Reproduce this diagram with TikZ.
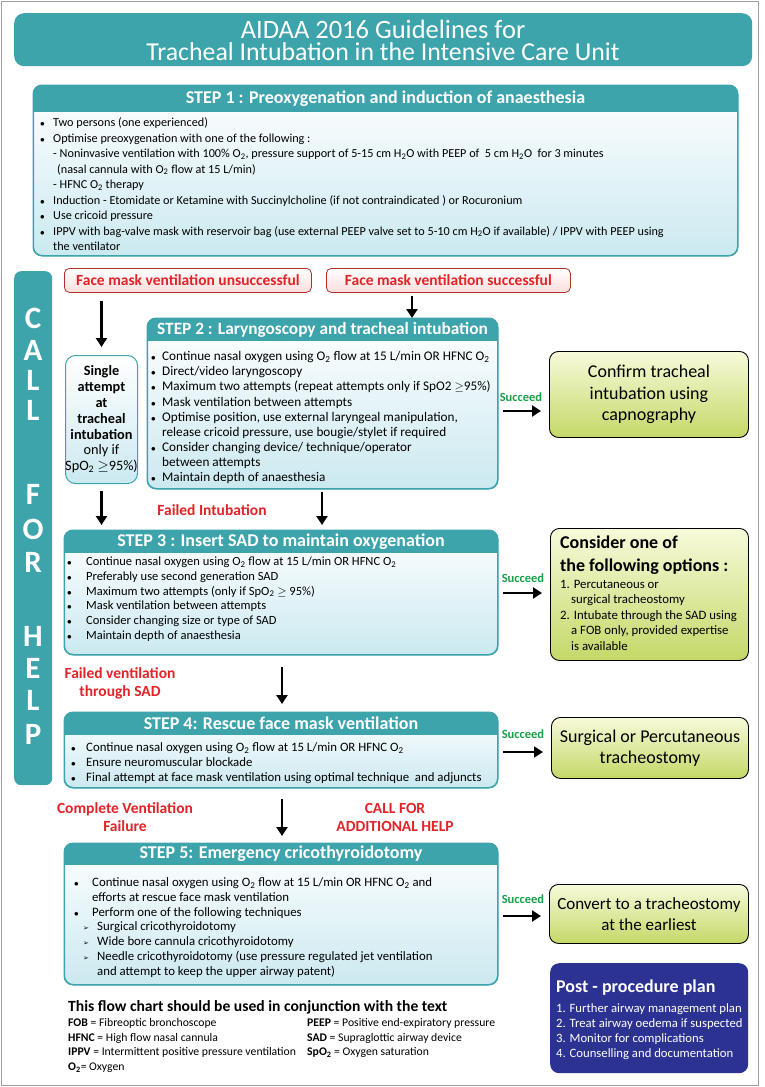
\documentclass[tikz,border=0pt]{standalone}
\usepackage{fontspec}
\setmainfont{Carlito}
\newfontfamily\dejavu{DejaVu Sans}
\usetikzlibrary{arrows.meta}
\definecolor{tealc}{RGB}{62,164,172}
\definecolor{lblue}{RGB}{203,233,240}
\definecolor{redt}{RGB}{226,35,40}
\definecolor{redb}{RGB}{176,48,44}
\definecolor{pinkb}{RGB}{250,222,220}
\definecolor{greent}{RGB}{24,158,72}
\definecolor{ygtop}{RGB}{247,250,218}
\definecolor{ygbot}{RGB}{196,216,104}
\definecolor{navyc}{RGB}{44,50,146}
\newcommand\fs[2]{\fontsize{#1}{#2}\selectfont}
\newcommand\Ot{O\textsubscript{2}}
\newcommand\Ht{H\textsubscript{2}O}
\newcommand\bu[1]{\makebox[#1][l]{$\scriptstyle\bullet$}}
\newcommand\ar{{\dejavu\fontsize{7}{7}\selectfont ➢}}
\newcommand\stepframe[6]{%
 \node[stepbox,minimum width=#4pt,minimum height=#5pt] (#1) at (#2,#3) {};
 \begin{scope}
 \clip[rounded corners=9pt] (#1.north west) rectangle (#1.south east);
 \fill[tealc] (#1.north west) rectangle ([yshift=-#6pt]#1.north east);
 \end{scope}
 \draw[tealc,line width=1pt,rounded corners=9pt] (#1.north west) rectangle (#1.south east);
}
\begin{document}
\begin{tikzpicture}[x=1pt,y=-1pt,
  arr/.style={line width=2.3pt,-{Triangle[length=9pt,width=11pt]}},
  stepbox/.style={draw=tealc,line width=1pt,rounded corners=9pt,top color=white,bottom color=lblue,inner sep=0pt,anchor=north west},
  hdr/.style={text=white,font=\bfseries\fs{18}{20}},
  txt/.style={anchor=north west,inner sep=0pt,align=left},
  fm/.style={draw=redb,line width=0.8pt,rounded corners=5pt,top color=white,bottom color=pinkb,text=redt,font=\bfseries\fs{15.5}{17},anchor=north west,inner sep=0pt},
  redlbl/.style={text=redt,font=\bfseries\fs{15.5}{18},align=center},
  succ/.style={text=greent,font=\bfseries\fs{12.5}{14}},
  res/.style={draw=black,line width=0.9pt,rounded corners=9pt,top color=ygtop,bottom color=ygbot,anchor=north west,inner sep=0pt,font=\fs{18}{21.5},align=center},
]
\useasboundingbox (0,0) rectangle (764,1087);
\fill[white] (0,0) rectangle (764,1087);
\draw[gray!75,line width=1.2pt] (1.5,1.5) rectangle (758.5,1085.5);

% title
\node[anchor=north west,fill=tealc,rounded corners=10pt,minimum width=738pt,minimum height=53pt,inner sep=0pt] (title) at (14,13) {};
\node[inner sep=0pt,text=white,font=\fs{26.5}{27}] (title1) at (383,29) {AIDAA 2016 Guidelines for};
\node[inner sep=0pt,text=white,font=\fs{25.8}{27}] (title2) at (383,52) {Tracheal Intubation in the Intensive Care Unit};

% STEP 1
\stepframe{s1}{33}{85}{704}{170}{27}
\node[hdr] (s1h) at ([yshift=-13.5pt]s1.north) {STEP 1 : Preoxygenation and induction of anaesthesia};
\node[txt,font=\fs{12.2}{15.5}] (s1t) at (40,115.5) {\strut\bu{13pt}Two persons (one experienced)\\
\bu{13pt}Optimise preoxygenation with one of the following :\\
\hspace*{13pt}- Noninvasive ventilation with 100\% \Ot, pressure support of 5-15 cm \Ht\ with PEEP of \ 5 cm \Ht\ \ for 3 minutes\\
\hspace*{17pt}(nasal cannula with \Ot\ flow at 15 L/min)\\
\hspace*{13pt}- HFNC \Ot\ therapy\\
\bu{13pt}Induction - Etomidate or Ketamine with Succinylcholine (if not contraindicated ) or Rocuronium\\
\bu{13pt}Use cricoid pressure\\
\bu{13pt}IPPV with bag-valve mask with reservoir bag (use external PEEP valve set to 5-10 cm \Ht\ if available) / IPPV with PEEP using\\
\hspace*{13pt}the ventilator};

% CALL FOR HELP bar
\node[anchor=north west,fill=tealc,rounded corners=7pt,minimum width=38pt,minimum height=514pt,inner sep=0pt] (bar) at (14,271) {};
\foreach \l/\yy [count=\i] in {C/318,A/350,L/380,L/410,F/494,O/529,R/562,H/636,E/668,L/700,P/734}
  \node[text=white,font=\bfseries\fs{31}{32}] (cfh\i) at (33,\yy) {\l};

% face mask boxes
\node[fm,minimum width=247pt,minimum height=24pt] (fmu) at (64,268) {Face mask ventilation unsuccessful};
\node[fm,minimum width=244pt,minimum height=24pt] (fms) at (326,268) {Face mask ventilation successful};

% single attempt
\node[stepbox,rounded corners=10pt,minimum width=72pt,minimum height=128pt] (single) at (65,355) {};
\node[align=center,font=\fs{14.3}{15.8}] (singlet) at (single.center) {\textbf{Single}\\\textbf{attempt}\\\textbf{at}\\\textbf{tracheal}\\\textbf{intubation}\\only if\\Sp\Ot\ $\geq$95\%)};

% STEP 2
\stepframe{s2}{147}{318}{350}{170}{23}
\node[hdr,font=\bfseries\fs{17.3}{19}] (s2h) at ([yshift=-11.5pt]s2.north) {STEP 2 : Laryngoscopy and tracheal intubation};
\node[txt,font=\fs{13.2}{15.1}] (s2t) at (151,350) {\strut\bu{11pt}Continue nasal oxygen using \Ot\ flow at 15 L/min OR HFNC \Ot\\
\bu{11pt}Direct/video laryngoscopy\\
\bu{11pt}Maximum two attempts (repeat attempts only if SpO2 $\geq$95\%)\\
\bu{11pt}Mask ventilation between attempts\\
\bu{11pt}Optimise position, use external laryngeal manipulation,\\
\hspace*{11pt}release cricoid pressure, use bougie/stylet if required\\
\bu{11pt}Consider changing device/ technique/operator\\
\hspace*{11pt}between attempts\\
\bu{11pt}Maintain depth of anaesthesia};

% arrows top
\draw[arr,shorten <=8pt,shorten >=8pt] (single.north |- fmu.south) -- (single.north);
\coordinate (a2) at (412,296);
\draw[arr] (a2) -- (a2 |- s2.north);

% confirm
\node[succ] (suc1) at (521,397) {Succeed};
\node[res,minimum width=199pt,minimum height=86pt] (conf) at (549,351) {Confirm tracheal\\intubation using\\capnography};
\coordinate (c1) at (503,411);
\draw[arr,shorten >=8pt] (c1) -- (c1 -| conf.west);

% STEP 3
\stepframe{s3}{64}{530}{433}{124}{23}
\node[hdr] (s3h) at ([yshift=-11.5pt]s3.north) {STEP 3 : Insert SAD to maintain oxygenation};
\node[txt,font=\fs{12.5}{14.8}] (s3t) at (67,555) {\strut\bu{19pt}Continue nasal oxygen using \Ot\ flow at 15 L/min OR HFNC \Ot\\
\bu{19pt}Preferably use second generation SAD\\
\bu{19pt}Maximum two attempts (only if Sp\Ot\ $\geq$ 95\%)\\
\bu{19pt}Mask ventilation between attempts\\
\bu{19pt}Consider changing size or type of SAD\\
\bu{19pt}Maintain depth of anaesthesia};

\draw[arr,shorten <=7pt,shorten >=5pt] (single.south) -- (single.south |- s3.north);
\coordinate (a3) at (322,492);
\draw[arr,shorten >=5pt] (a3) -- (a3 |- s3.north);
\node[redlbl] (fi) at (212,510) {Failed Intubation};

\node[succ] (suc2) at (523,578) {Succeed};
\node[res,minimum width=198pt,minimum height=132pt] (cons) at (550,528) {};
\node[txt,font=\bfseries\fs{18}{23}] (consh) at (560,535.5) {Consider one of\\the following options :};
\node[txt,font=\fs{12.8}{15.5}] (const) at (560,580) {1. Percutaneous or\\
\hspace*{11pt}surgical tracheostomy\\
2. Intubate through the SAD using\\
\hspace*{11pt}a FOB only, provided expertise\\
\hspace*{11pt}is available};
\coordinate (c2) at (503,593);
\draw[arr,shorten >=8pt] (c2) -- (c2 -| cons.west);

% STEP 4
\node[redlbl] (fv) at (120,683) {Failed ventilation\\through SAD};
\coordinate (a4) at (282,667);
\stepframe{s4}{64}{712}{433}{75}{23}
\draw[arr,shorten >=8pt] (a4) -- (a4 |- s4.north);
\node[hdr] (s4h) at ([yshift=-11.5pt]s4.north) {STEP 4: Rescue face mask ventilation};
\node[txt,font=\fs{12.8}{15}] (s4t) at (71,740.5) {\strut\bu{15pt}Continue nasal oxygen using \Ot\ flow at 15 L/min OR HFNC \Ot\\
\bu{15pt}Ensure neuromuscular blockade\\
\bu{15pt}Final attempt at face mask ventilation using optimal technique \ and adjuncts};

\node[succ] (suc3) at (523,734) {Succeed};
\node[res,minimum width=197pt,minimum height=61pt] (surg) at (551,717) {Surgical or Percutaneous\\tracheostomy};
\coordinate (c3) at (503,752);
\draw[arr,shorten >=8pt] (c3) -- (c3 -| surg.west);

% STEP 5
\node[redlbl] (cvf) at (125,817) {Complete Ventilation\\Failure};
\node[redlbl] (cfah) at (395,817) {CALL FOR\\ADDITIONAL HELP};
\stepframe{s5}{64}{843}{433}{141}{22}
\draw[arr,shorten <=11pt,shorten >=7pt] (a4 |- s4.south) -- (a4 |- s5.north);
\node[hdr] (s5h) at ([yshift=-11pt]s5.north) {STEP 5: Emergency cricothyroidotomy};
\node[txt,font=\fs{12.8}{14.8}] (s5t) at (74,876) {\strut\bu{18pt}Continue nasal oxygen using \Ot\ flow at 15 L/min OR HFNC \Ot\ and\\
\hspace*{18pt}efforts at rescue face mask ventilation\\
\bu{18pt}Perform one of the following techniques\\
\hspace*{9pt}\makebox[14pt][l]{\ar}Surgical cricothyroidotomy\\
\hspace*{9pt}\makebox[14pt][l]{\ar}Wide bore cannula cricothyroidotomy\\
\hspace*{9pt}\makebox[14pt][l]{\ar}Needle cricothyroidotomy (use pressure regulated jet ventilation\\
\hspace*{23pt}and attempt to keep the upper airway patent)};

\node[succ] (suc4) at (523,899) {Succeed};
\node[res,minimum width=199pt,minimum height=59pt,font=\fs{17}{21.5}] (conv) at (549,884) {Convert to a tracheostomy\\at the earliest};
\coordinate (c4) at (503,916);
\draw[arr,shorten >=8pt] (c4) -- (c4 -| conv.west);

% post-procedure
\node[anchor=north west,fill=navyc,rounded corners=9pt,minimum width=198pt,minimum height=110pt,inner sep=0pt] (post) at (550,963) {};
\node[txt,text=white,font=\bfseries\fs{18}{20}] (posth) at (556,980) {Post - procedure plan};
\node[txt,text=white,font=\fs{12.7}{15.2}] (postt) at (556,1003) {1. Further airway management plan\\
2. Treat airway oedema if suspected\\
3. Monitor for complications\\
4. Counselling and documentation};

% legend
\node[anchor=west,inner sep=0pt,font=\bfseries\fs{15.6}{17}] (legh) at (68,1007) {This flow chart should be used in conjunction with the text};
\node[txt,font=\fs{11.7}{14.6}] (leg1) at (68,1016) {\strut\textbf{FOB} = Fibreoptic bronchoscope\\
\textbf{HFNC} = High flow nasal cannula\\
\textbf{IPPV} = Intermittent positive pressure ventilation\\
\textbf{\Ot}= Oxygen};
\node[txt,font=\fs{11.7}{14.6}] (leg2) at (307,1016) {\strut\textbf{PEEP} = Positive end-expiratory pressure\\
\textbf{SAD} = Supraglottic airway device\\
\textbf{Sp\Ot} = Oxygen saturation};
\end{tikzpicture}
\end{document}
